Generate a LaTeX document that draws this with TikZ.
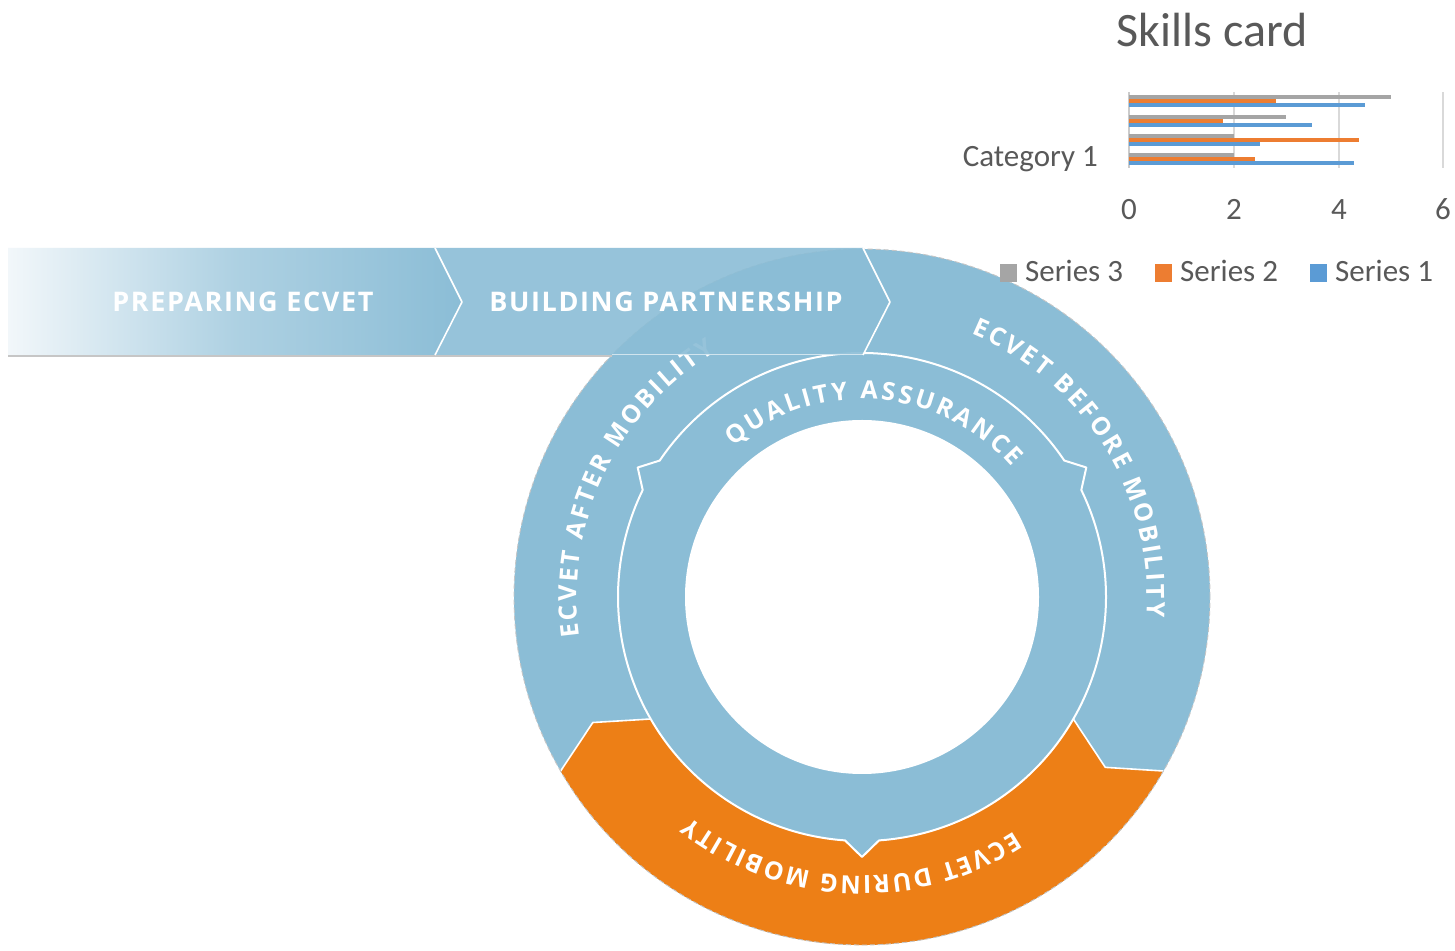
\documentclass[tikz,border=0pt]{standalone}
\usepackage{fontspec}
\newfontfamily\osans{Open Sans}[LetterSpace=6]
\newfontfamily\osring{Open Sans}
\newfontfamily\carl{Carlito}
\usetikzlibrary{decorations.text}
\definecolor{ringblue}{RGB}{139,189,214}
\definecolor{ecorange}{RGB}{237,127,22}
\definecolor{bannerL}{RGB}{242,247,250}
\definecolor{txtgray}{RGB}{89,89,89}
\definecolor{gridgray}{RGB}{217,217,217}
\definecolor{sera}{RGB}{91,155,213}
\definecolor{serb}{RGB}{237,125,49}
\definecolor{serc}{RGB}{165,165,165}
\newcommand\rngfont{\osring\bfseries\fontsize{25}{25}\selectfont}
\begin{document}
\begin{tikzpicture}[x=1pt,y=1pt,
  sepline/.style={white,line width=1.6pt,line join=round},
  bannertext/.style={font=\osans\bfseries\fontsize{27}{27}\selectfont,text=white},
  chartlabel/.style={font=\carl\fontsize{31}{31}\selectfont,text=txtgray,inner sep=0pt},
  ringtext/.style={decorate,decoration={text along path,text align={fit to path},text color=white,text={|\rngfont|#1}}}
]
\useasboundingbox[fill=white] (0,0) rectangle (1455,950);
\coordinate (C) at (862,353);
% outer ring
\fill[ringblue] (C) circle[radius=348pt];
% orange segment (during mobility)
\fill[ecorange] ([shift={(210:244pt)}]C) arc[start angle=210,end angle=330,radius=244pt]
  -- ([shift={(325:297pt)}]C) -- ([shift={(330:348pt)}]C)
  arc[start angle=330,end angle=210,radius=348pt]
  -- ([shift={(205:297pt)}]C) -- cycle;
\draw[sepline] ([shift={(210:244pt)}]C) -- ([shift={(205:297pt)}]C) -- ([shift={(210:348pt)}]C);
\draw[sepline] ([shift={(330:244pt)}]C) -- ([shift={(325:297pt)}]C) -- ([shift={(330:348pt)}]C);
\draw[gray!45,line width=0.9pt,dash pattern=on 5pt off 3pt] (C) circle[radius=348pt];
% quality assurance band
\path[fill=ringblue,draw=white,line width=2pt,line join=round]
  ([shift={(34:244pt)}]C) arc[start angle=34,end angle=146,radius=244pt]
  -- ([shift={(150:259pt)}]C) -- ([shift={(154:244pt)}]C)
  arc[start angle=154,end angle=266,radius=244pt]
  -- ([shift={(270:260pt)}]C) -- ([shift={(274:244pt)}]C)
  arc[start angle=274,end angle=386,radius=244pt]
  -- ([shift={(30:259pt)}]C) -- cycle;
\fill[white] (C) circle[radius=177pt];
% curved labels
\path[ringtext={ECVET AFTER MOBILITY}] ([shift={(188:285pt)}]C) arc[start angle=188,end angle=121,radius=285pt];
\path[ringtext={ECVET BEFORE MOBILITY}] ([shift={(67.5:285pt)}]C) arc[start angle=67.5,end angle=-4,radius=285pt];
\path[ringtext={ECVET DURING MOBILITY}] ([shift={(303:279pt)}]C) arc[start angle=303,end angle=232,radius=279pt];
\path[ringtext={QUALITY ASSURANCE}] ([shift={(130.5:198pt)}]C) arc[start angle=130.5,end angle=41,radius=198pt];
% banner
\shade[left color=bannerL,right color=ringblue,middle color=ringblue!70!white] (8,702) -- (435,702) -- (462,648) -- (435,595) -- (8,595) -- cycle;
\fill[ringblue,fill opacity=0.9] (435,702) -- (863,702) -- (890,648) -- (863,595) -- (435,595) -- (462,648) -- cycle;
\draw[gray!45,line width=1.5pt] (8,594) -- (612,594);
\draw[white,opacity=0.6,line width=1pt] (612,595.5) -- (863,595.5);
\draw[sepline] (435,702) -- (462,648) -- (435,595);
\draw[sepline] (863,702) -- (890,648) -- (863,595);
\node[bannertext] (prep) at (243,648) {PREPARING ECVET};
\node[bannertext] (build) at (666,648) {BUILDING PARTNERSHIP};
% chart
\node[font=\carl\fontsize{48}{48}\selectfont,text=txtgray,anchor=base] (title) at (1212,903) {Skills card};
\foreach \gx in {1234,1339,1443} \draw[gridgray,line width=1.2pt] (\gx,782) -- (\gx,858);
\draw[gridgray!85!gray,line width=1.2pt] (1129,782) -- (1129,858);
\foreach \yc/\v/\c in {853/5.0/serc,849/2.8/serb,845/4.5/sera,
                       833/3.0/serc,829/1.8/serb,825/3.5/sera,
                       814/2.0/serc,810/4.4/serb,806/2.5/sera,
                       795/2.0/serc,791/2.4/serb,787/4.3/sera}
  \fill[\c] (1129,\yc-1.9) rectangle ({1129+52.33*\v},\yc+1.9);
\node[chartlabel,anchor=base east] (cat) at (1098,783) {Category 1};
\node[chartlabel,anchor=base] (t0) at (1129,730) {0};
\node[chartlabel,anchor=base] (t2) at (1234,730) {2};
\node[chartlabel,anchor=base] (t4) at (1339,730) {4};
\node[chartlabel,anchor=base] (t6) at (1443,730) {6};
\fill[serc] (1000,668) rectangle (1017,686);
\fill[serb] (1155,668) rectangle (1172,686);
\fill[sera] (1310,668) rectangle (1327,686);
\node[chartlabel,anchor=base west] (l3) at (1025,668) {Series 3};
\node[chartlabel,anchor=base west] (l2) at (1180,668) {Series 2};
\node[chartlabel,anchor=base west] (l1) at (1335,668) {Series 1};
\end{tikzpicture}
\end{document}
